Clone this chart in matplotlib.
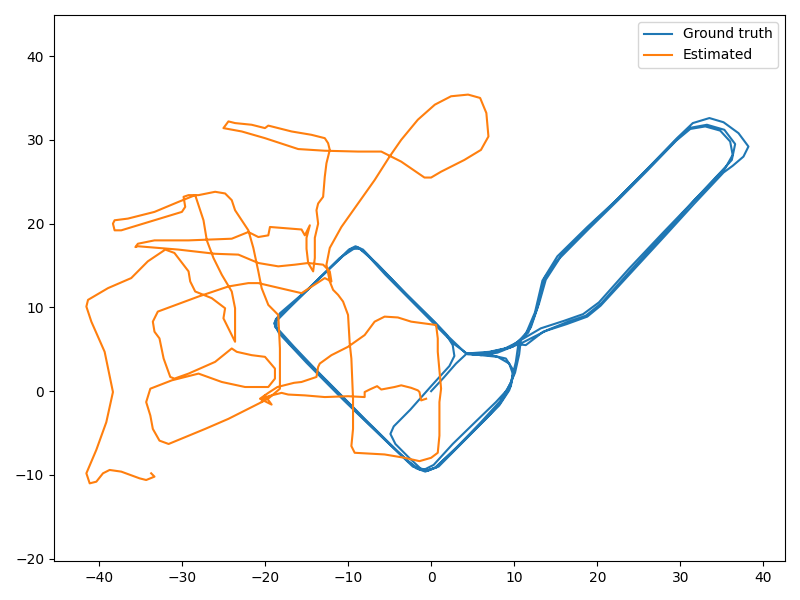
"""Ground truth vs estimated trajectory (top view)."""

import matplotlib
matplotlib.use("Agg")
import matplotlib.pyplot as plt
import numpy as np

# ground truth waypoints (x, y), several laps of the same route
gt_x = [0, 1.5, 3, 4.3,
        6.5, 8.5, 10.5, 12, 13, 13.8, 15.5, 19, 22.5, 26, 29.5, 31.2, 33, 34.8, 36, 36.3, 35.4,
        31.5, 28.1, 24, 20.5, 18.6, 16.5, 14, 11, 8, 6, 4.3,
        2.8, 1.5, -2, -5.5, -8, -8.9, -9.8, -13.5, -17, -18.6, -18.6, -16.5, -12, -7.5, -3,
        -1.5, -0.6, 0.6, 4, 6.5, 8.2, 9.4, 9.9, 9.4, 8, 6, 4.3,
        7, 9.8, 11.7, 12.8, 13.7, 15.8, 19.2, 22.6, 26.1, 29.6, 31.5, 33.5, 35.2, 37, 38.2, 37.6,
        36.3, 35.2, 31.6, 28.2, 24.2, 20.4, 18.8, 16.3, 13.5, 11.4,
        10.5, 10.2, 9.6, 8.3, 6, 3, 0.5, -0.7, -1.8, -4, -8, -12.5, -16.8, -18.8, -18.7, -16.8,
        -13, -9.9, -9.1, -8.2, -5, -1.5, 1.8, 2.6, 2.8, 2.2, 0, -2.5, -4.5, -4.9, -4.3, -2.7,
        -1.3, -0.4, 0.9, 4.2, 6.7, 8.4, 9.6, 9.9, 9, 7.2, 4.4,
        6.8, 9.5, 11.3, 12.5, 13.4, 15.2, 18.8, 22.4, 25.9, 29.3, 31, 33.2, 35.3, 36.6, 36.2,
        35, 31.3, 27.9, 23.8, 20.2, 18.3, 16, 13.2, 10.8, 10.6, 10.1, 9.2, 7.8,
        5.5, 2.6, 0.3, -0.9, -2.2, -6, -10.5, -15, -18.3, -18.9, -18.2, -14.8, -11, -9.3,
        -8.6, -6.5, -3, 0.5, 2.2, 4.2]
gt_y = [0, 1.6, 3.3, 4.5,
        4.4, 4.9, 5.9, 7.6, 10.5, 13.3, 15.9, 19.4, 22.8, 26.3, 29.9, 31.3, 31.6, 31.1, 29.8, 28.2, 26.6,
        22.6, 18.8, 14.4, 10.5, 9, 8.3, 7.3, 5.8, 4.6, 4.3, 4.5,
        5.6, 6.9, 10.4, 13.9, 16.6, 17.2, 16.9, 13.4, 10, 8.4, 7.6, 5.3, 0.6, -3.9, -8.2,
        -9.3, -9.5, -9.1, -5.8, -3.4, -1.7, 0.1, 1.9, 3.3, 4.1, 4.3, 4.5,
        4.7, 5.3, 7, 10, 13.6, 16.4, 19.8, 23.1, 26.6, 30.2, 32, 32.6, 32.1, 30.8, 29.2, 28,
        26.9, 26.1, 22.3, 18.6, 14.3, 10.2, 8.9, 8.0, 7.1, 5.5,
        5.6, 3.5, 1, -1.2, -3.7, -6.8, -9.1, -9.6, -9.2, -7.2, -3.3, 1.2, 5.4, 7.7, 8.6, 10.3,
        13.9, 16.9, 17.3, 16.9, 13.6, 10.1, 6.8, 5.5, 4.2, 3, 0.6, -2.2, -4.2, -5.1, -6.3, -7.9,
        -9.2, -9.5, -9, -5.7, -3.2, -1.3, 0.6, 2.5, 3.9, 4.3, 4.4,
        4.6, 5.2, 6.6, 9.4, 13.2, 16.1, 19.6, 22.9, 26.4, 29.8, 31.4, 31.8, 31.2, 29.5, 27.6,
        26.3, 22.4, 18.9, 14.6, 10.6, 9.2, 8.4, 7.5, 6.1, 4.4, 2.2, 0.2, -1.3,
        -3.5, -6.3, -8.8, -9.4, -9.0, -5.4, -1.1, 3.4, 6.9, 8.1, 9.3, 12.2, 15.9, 17.0,
        17.0, 15.2, 11.6, 8.2, 6.4, 4.5]

# estimated trajectory waypoints (x, y)
est_x = [-0.6, -1.2, -1.4, -1.6, -2.4, -3.6, -4.4, -6, -6.5, -7.4, -8, -8, -10, -12.8, -15.2,
         -17.2, -18, -19.6, -20.4, -20.0, -19.2, -20.6, -19.6, -18.5,
         -16.5, -15.6, -13.8, -13.6, -13.4, -12, -10, -8, -6.8, -5.6, -4, -2.4, 0.6,
         0.8, 0.8, 1.2, 1, 1, 0.8, 0, -1.4, -3.2, -5.6, -9.2, -9.6, -9.4, -9.4, -9.6, -9.8,
         -10, -10.6, -11.2, -11.8, -12.2, -12.6, -12.2, -10.8, -8.8, -6.8, -5, -3.6, -1.6,
         0.45, 2.4, 4.45, 5.9, 6.65, 6.9, 6, 4, 1.2, 0, -0.8, -3.6, -6, -8.8, -12.8, -16,
         -20, -22.8, -25, -24.4, -23.6, -21.6, -20, -19.6, -16.8, -14.4, -12.8, -12.4, -12.2,
         -12.6, -12.8, -13, -13.6, -13.8, -13.6, -14, -14, -14.2,
         -14.8, -15, -15, -14.6, -15.2, -15.6, -18.2, -19.4, -19.6, -20.8, -22, -24, -29.2,
         -33.3, -35.3, -35.6, -35.3, -30.4, -26, -23.2, -20.8, -18.4, -16.4, -14.8, -13,
         -12.2, -12, -12.8, -15.6, -20.8, -22, -24.4, -28, -32.9, -33.5, -33.3, -32.7, -32.2,
         -31.4, -30.9, -29.2, -26, -24, -23.4, -21.6, -20, -18.8, -18.8, -19.6, -22.4, -25.2,
         -28, -31.2, -33.8, -34.3, -33.8, -33.5, -32.7, -31.6, -27.2, -24.4, -20.4, -19.5,
         -18.2, -18.2, -18.2, -18.4, -19.6, -20.4, -20.8, -21.4, -22, -22.8, -23.6, -24,
         -24.8, -26, -28, -29.2, -29.8, -29.6, -30, -33.3, -37.3, -38.1, -38.3, -38.1, -36.5,
         -33.3, -30.4, -28.4, -27.4, -27, -26.2, -25.2, -24, -23.6, -23.6, -23.6,
         -24.4, -25, -24.8, -26.4, -28.4, -29, -29.2, -30.9, -32, -34.1, -36.1, -38.9, -41.3,
         -41.5, -40.9, -39.3, -38.3, -39.1, -40.3, -41.5, -41.1, -40.3, -39.5, -38.7, -37.3,
         -35.1, -34.3, -33.3, -33.7]
est_y = [-0.9, -1.1, -0.1, 0.1, 0.4, 0.7, 0.5, 0.2, 0.6, 0.2, -0.1, -0.7, -0.6, -0.7, -0.5,
         -0.4, -0.2, -0.6, -1.3, -0.5, -1.6, -0.9, -0.2, 0.5,
         1, 1.1, 1.7, 2.9, 3.3, 4.3, 5.3, 6.7, 8.3, 8.9, 8.8, 8.3, 7.9,
         6.3, 4.7, 0.3, -1.3, -5.3, -7.35, -7.95, -8.35, -7.95, -7.55, -7.35, -6.55, -4.5, -0.9,
         3.9, 5.7, 9.1, 10.7, 11.5, 12.1, 13.1, 15.1, 17.1, 19.6, 22.4, 25.2, 28, 30, 32.4,
         34.2, 35.2, 35.4, 35, 33.2, 30.4, 28.8, 27.6, 26.2, 25.5, 25.5, 27.4, 28.6, 28.6,
         28.7, 28.9, 30.2, 31, 31.4, 32.2, 32, 31.8, 31.4, 31.7, 31, 30.6, 30.2, 29.6, 28.8,
         27.2, 25.6, 23.2, 22.4, 21.6, 20, 18.3, 15.9, 14.3,
         15.3, 17, 18.3, 19.8, 18.6, 19.3, 19.5, 19.6, 18.6, 18.4, 19, 18.2, 18, 18, 17.6,
         17.2, 17.3, 16.9, 16.4, 16.3, 15.3, 14.9, 15.1, 15.3, 15.1, 14.3, 13.1, 13.5, 11.7,
         12.9, 12.9, 12.5, 11.3, 9.5, 8.3, 7.1, 6.3, 3.9, 1.7, 1.5, 2.1, 3.5, 5.1, 4.7, 4.3,
         4.1, 2.7, 1.5, 0.5, 0.5, 1.1, 2.1, 1.3, 0.3, -1.3, -2.9, -4.5, -5.9, -6.3, -4.5,
         -3.3, -1.3, -0.8, 0.3, 2.7, 5.1, 9.1, 10.3, 12.3, 14.3, 17.1, 19.2, 20.4, 21.6, 22.8,
         23.6, 23.8, 23.4, 23.4, 23.2, 22, 21.4, 20.4, 19.2, 19.2, 20, 20.4, 20.6, 21.4, 22.6,
         23.4, 20.4, 18, 15.9, 13.9, 11.9, 9.9, 6.3, 5.9,
         7.5, 8.7, 9.9, 11.1, 11.9, 13.1, 14.3, 16.5, 16.9, 15.5, 13.5, 12.3, 10.9, 10.1, 8.3,
         4.7, -0.1, -3.7, -7, -9.8, -11, -10.8, -9.8, -9.4, -9.6, -10.4, -10.6, -10.2, -9.8]


def main() -> None:
    fig, ax = plt.subplots(figsize=(8, 6), dpi=100)
    ax.plot(np.array(gt_x), np.array(gt_y), label="Ground truth")
    ax.plot(np.array(est_x), np.array(est_y), label="Estimated")
    ax.set_xlim(-45.4, 42.6)
    ax.set_ylim(-20.3, 44.9)
    ax.legend(loc="upper right")
    fig.tight_layout()
    fig.savefig("out.png", dpi=100)
    plt.close(fig)


if __name__ == "__main__":
    main()
